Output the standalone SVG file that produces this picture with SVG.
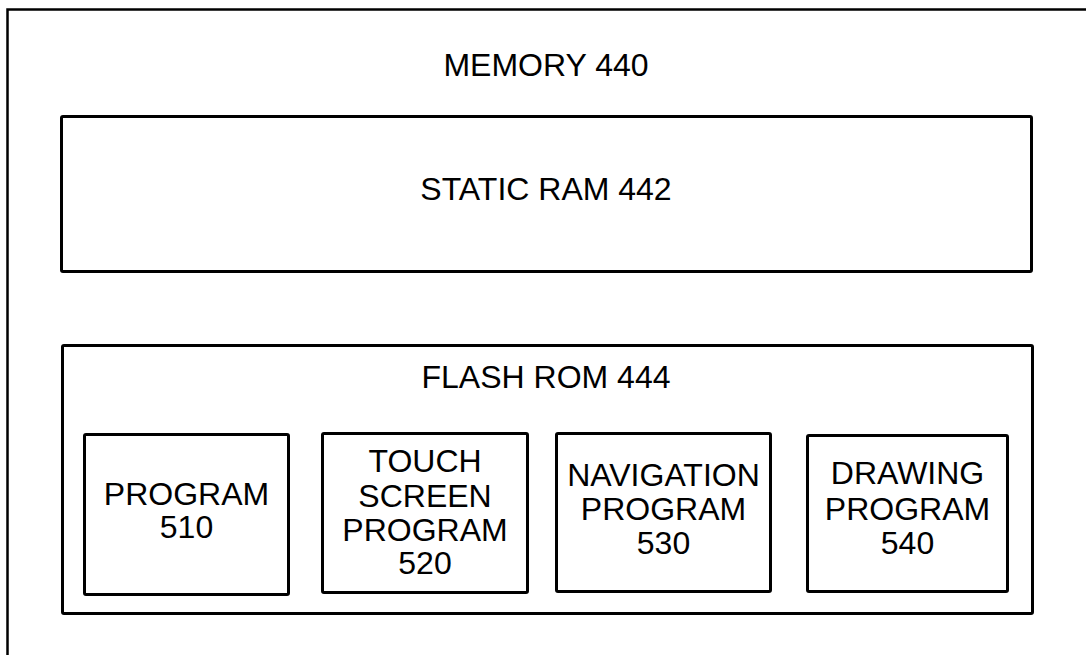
<svg xmlns="http://www.w3.org/2000/svg" width="1088" height="655" viewBox="0 0 1088 655">
<style>
.box{fill:none;stroke:#000;stroke-width:3}
.outer{fill:none;stroke:#000;stroke-width:2.5}
.t{font-family:"Liberation Sans",Arial,sans-serif;font-size:32px;fill:#000;text-anchor:middle}
</style>
<rect width="1088" height="655" fill="#fff"/>
<g id="memory">
<path class="outer" d="M7.5,660 V9.5 H1086"/>
<text class="t" x="546" y="76">MEMORY 440</text>
</g>
<g id="static-ram">
<rect class="box" x="61.5" y="116.5" width="970" height="155" rx="1.5"/>
<text class="t" x="546" y="200">STATIC RAM 442</text>
</g>
<g id="flash-rom">
<rect class="box" x="62.5" y="345.5" width="970" height="268" rx="1.5"/>
<text class="t" x="546" y="388">FLASH ROM 444</text>
</g>
<g id="program-510">
<rect class="box" x="84.5" y="434.5" width="204" height="160" rx="1.5"/>
<text class="t" x="186.5" y="505">PROGRAM</text>
<text class="t" x="186.5" y="538">510</text>
</g>
<g id="touch-520">
<rect class="box" x="322.5" y="433.5" width="205" height="159" rx="1.5"/>
<text class="t" x="425" y="472">TOUCH</text>
<text class="t" x="425" y="507">SCREEN</text>
<text class="t" x="425" y="541">PROGRAM</text>
<text class="t" x="425" y="574">520</text>
</g>
<g id="navigation-530">
<rect class="box" x="556.5" y="433.5" width="214" height="158" rx="1.5"/>
<text class="t" x="663.5" y="486">NAVIGATION</text>
<text class="t" x="663.5" y="520">PROGRAM</text>
<text class="t" x="663.5" y="554">530</text>
</g>
<g id="drawing-540">
<rect class="box" x="807.5" y="435.5" width="200" height="156" rx="1.5"/>
<text class="t" x="907.5" y="484">DRAWING</text>
<text class="t" x="907.5" y="520">PROGRAM</text>
<text class="t" x="907.5" y="554">540</text>
</g>
<g id="connectors"></g>
</svg>
